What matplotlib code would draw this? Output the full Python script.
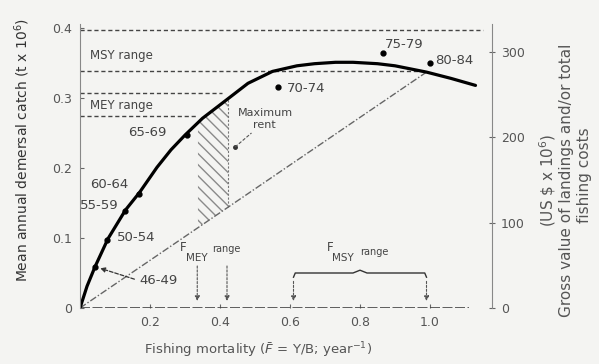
import numpy as np
import matplotlib.pyplot as plt

# fitted catch curve (F, catch in 10^6 t)
curve_f = [0, 0.02, 0.043, 0.08, 0.13, 0.17, 0.22, 0.26, 0.30, 0.35, 0.41,
           0.48, 0.55, 0.62, 0.67, 0.73, 0.78, 0.85, 0.90, 0.99, 1.06, 1.13]
curve_c = [0, 0.031, 0.059, 0.099, 0.140, 0.165, 0.201, 0.226, 0.247, 0.271,
           0.294, 0.321, 0.338, 0.346, 0.349, 0.351, 0.351, 0.349, 0.346,
           0.337, 0.328, 0.318]

# observed period means
periods = ["46-49", "50-54", "55-59", "60-64", "65-69", "70-74", "75-79", "80-84"]
obs_f = [0.043, 0.077, 0.129, 0.169, 0.305, 0.566, 0.866, 1.0]
obs_c = [0.059, 0.097, 0.139, 0.163, 0.247, 0.316, 0.364, 0.350]

# total cost line
cost_f = [0, 0.99]
cost_c = [0, 0.337]

# reference ranges
msy_catch = [0.339, 0.397]
mey_catch = [0.274, 0.307]
f_mey = [0.335, 0.42]
f_msy = [0.61, 0.99]

x_ticks = [0.2, 0.4, 0.6, 0.8, 1.0]
x_tick_labels = ["0.2", "0.4", "0.6", "0.8", "1.0"]
y_ticks = [0, 0.1, 0.2, 0.3, 0.4]
y_tick_labels = ["0", "0.1", "0.2", "0.3", "0.4"]
r_ticks = [0, 100, 200, 300]
r_tick_labels = ["0", "100", "200", "300"]

bg = "#f4f4f2"
ink = "#555555"
W, H = 599, 364

fig = plt.figure(figsize=(W / 100, H / 100), dpi=100, facecolor=bg)
ax = fig.add_axes([80 / W, 1 - 308 / H, 412 / W, 284 / H], facecolor=bg)
ax.set_xlim(0, 412 / 350)
ax.set_ylim(0, 284 / 700)
for s in ["top", "right", "bottom"]:
    ax.spines[s].set_visible(False)
ax.spines["left"].set_color("#888888")

ax.set_xticks(x_ticks)
ax.set_xticklabels(x_tick_labels, fontsize=9, color=ink)
ax.set_yticks(y_ticks)
ax.set_yticklabels(y_tick_labels, fontsize=9, color=ink)
ax.tick_params(axis="both", direction="in", length=3, color="#666666", pad=6)
ax.axhline(0, xmin=0, xmax=1.11 / (412 / 350), color="#444444", lw=1.2,
           linestyle=(0, (6, 1.5)))

ax2 = ax.twinx()
ax2.set_ylim(0, 284 / 700 * 820.3)
for s in ["top", "left", "bottom"]:
    ax2.spines[s].set_visible(False)
ax2.spines["right"].set_color("#888888")
ax2.set_yticks(r_ticks)
ax2.set_yticklabels(r_tick_labels, fontsize=9, color=ink)
ax2.tick_params(axis="y", direction="inout", length=5, color="#666666", pad=4)

# dashed reference lines
dash = dict(color="#444444", lw=1.0, linestyle=(0, (3, 2)))
ax.plot([0, 1.15], [msy_catch[1], msy_catch[1]], **dash)
ax.plot([0, 0.985], [msy_catch[0], msy_catch[0]], **dash)
ax.plot([0, 0.405], [mey_catch[1], mey_catch[1]], **dash)
ax.plot([0, 0.335], [mey_catch[0], mey_catch[0]], **dash)
ax.text(0.029, 0.361, "MSY range", fontsize=8.5, color="#444444", va="center")
ax.text(0.029, 0.290, "MEY range", fontsize=8.5, color="#444444", va="center")

# hatched maximum rent zone
hf = np.array([0.337, 0.35, 0.41, 0.423])
hc_top = np.interp(hf, curve_f, curve_c)
hc_bot = np.interp(hf, cost_f, cost_c)
ax.fill_between(hf, hc_bot, hc_top, facecolor="none", edgecolor="#8a8a8a",
                hatch="\\\\\\", lw=0)
ax.plot([0.423, 0.423], [np.interp(0.423, cost_f, cost_c),
                         np.interp(0.423, curve_f, curve_c)],
        color="#777777", lw=0.8, linestyle=(0, (2, 1.5)))

# cost line and catch curve
ax.plot(cost_f, cost_c, color="#666666", lw=1.0, linestyle=(0, (5, 1.5, 1, 1.5)))
ax.plot(curve_f, curve_c, color="black", lw=2.3, solid_capstyle="round",
        solid_joinstyle="round")
ax.plot(obs_f, obs_c, "o", color="black", ms=3.5)

# period labels
lab = dict(fontsize=9.5, color="#444444", va="center")
ax.text(0.171, 0.040, periods[0], **lab)
ax.annotate("", xy=(0.05, 0.058), xytext=(0.163, 0.040),
            arrowprops=dict(arrowstyle="-|>", color="#333333", lw=0.9,
                            linestyle=(0, (3, 1.5)), mutation_scale=7))
ax.text(0.106, 0.101, periods[1], **lab)
ax.text(0.0, 0.147, periods[2], **lab)
ax.text(0.029, 0.177, periods[3], **lab)
ax.text(0.137, 0.250, periods[4], **lab)
ax.text(0.591, 0.314, periods[5], **lab)
ax.text(0.871, 0.376, periods[6], **lab)
ax.text(1.015, 0.354, periods[7], **lab)

# maximum rent label
ax.text(0.451, 0.279, "Maximum", fontsize=8, color="#444444", va="center")
ax.text(0.494, 0.261, "rent", fontsize=8, color="#444444", va="center")
ax.plot([0.443], [0.23], "o", color="#333333", ms=2.5)
ax.plot([0.443, 0.49], [0.23, 0.25], color="#555555", lw=0.8,
        linestyle=(0, (3, 1.5)))

# F range arrows
arr = dict(arrowstyle="-|>", color="#555555", lw=0.8, linestyle=(0, (2, 1.5)),
           mutation_scale=7)
for f in f_mey:
    ax.annotate("", xy=(f, 0.006), xytext=(f, 0.064), arrowprops=arr)
for f in f_msy:
    ax.annotate("", xy=(f, 0.006), xytext=(f, 0.042), arrowprops=arr)
ax.text(0.286, 0.086, "F", fontsize=8.5, color="#444444", va="center")
ax.text(0.303, 0.071, "MEY", fontsize=7.5, color="#444444", va="center")
ax.text(0.377, 0.084, "range", fontsize=7, color="#444444", va="center")
ax.text(0.706, 0.086, "F", fontsize=8.5, color="#444444", va="center")
ax.text(0.720, 0.071, "MSY", fontsize=7.5, color="#444444", va="center")
ax.text(0.800, 0.080, "range", fontsize=7, color="#444444", va="center")

# MSY bracket
bx = [0.61, 0.615, 0.78, 0.8, 0.82, 0.985, 0.99]
by = [0.044, 0.05, 0.05, 0.054, 0.05, 0.05, 0.044]
ax.plot(bx, by, color="#333333", lw=1.0)

# axis titles
fig.text(258 / W, 1 - 350 / H,
         "Fishing mortality ($\\bar{F}$ = Y/B; year$^{-1}$)",
         ha="center", va="center", fontsize=9.5, color=ink)
fig.text(22 / W, 1 - 150 / H, "Mean annual demersal catch (t x 10$^6$)",
         rotation=90, ha="center", va="center", fontsize=10, color="#333333")
fig.text(548 / W, 1 - 180 / H, "(US \\$ x 10$^6$)", rotation=90,
         ha="center", va="center", fontsize=11, color=ink)
fig.text(567 / W, 1 - 180 / H, "Gross value of landings and/or total",
         rotation=90, ha="center", va="center", fontsize=11, color=ink)
fig.text(585 / W, 1 - 175 / H, "fishing costs", rotation=90,
         ha="center", va="center", fontsize=11, color=ink)

fig.savefig("out.png", dpi=100, facecolor=bg)
